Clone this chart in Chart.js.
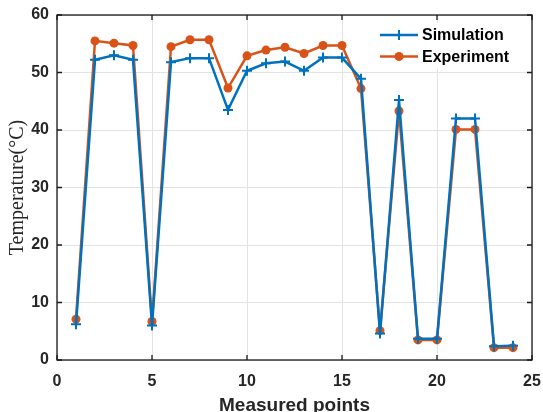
<!DOCTYPE html>
<html>
<head>
<meta charset="utf-8">
<script src="https://cdn.jsdelivr.net/npm/chart.js@4.4.0/dist/chart.umd.min.js"></script>
<style>
  html, body { margin: 0; padding: 0; background: #fff; }
  #wrap { width: 543px; height: 412px; }
</style>
</head>
<body>
<div id="wrap"><canvas id="chart"></canvas></div>
<script>
// measured points and temperatures
const points = [1, 2, 3, 4, 5, 6, 7, 8, 9, 10, 11, 12, 13, 14, 15, 16, 17, 18, 19, 20, 21, 22, 23, 24];
const simulation = [6.2, 52.2, 53.0, 52.2, 6.0, 51.8, 52.5, 52.5, 43.5, 50.3, 51.6, 51.9, 50.3, 52.6, 52.6, 48.9, 4.6, 45.2, 3.7, 3.7, 42.0, 42.0, 2.4, 2.5];
const experiment = [7.1, 55.5, 55.1, 54.7, 6.7, 54.5, 55.7, 55.7, 47.3, 52.9, 53.9, 54.4, 53.3, 54.7, 54.7, 47.2, 5.1, 43.3, 3.5, 3.5, 40.1, 40.1, 2.15, 2.15];
const seriesNames = ['Simulation', 'Experiment'];
const seriesColors = ['#0072BD', '#D95319'];
const xTicks = [0, 5, 10, 15, 20, 25];
const yTicks = [0, 10, 20, 30, 40, 50, 60];

const toXY = (vals) => points.map((p, i) => ({ x: p, y: vals[i] }));

// axes frame, inward ticks and the legend box (matlab look)
const matlabAxes = {
  id: 'matlabAxes',
  afterDraw(chart) {
    const { ctx, chartArea: a, scales: { x, y } } = chart;
    ctx.save();
    ctx.strokeStyle = '#1a1a1a';
    ctx.lineWidth = 1.3;
    ctx.strokeRect(a.left, a.top, a.right - a.left, a.bottom - a.top);
    ctx.beginPath();
    xTicks.forEach(t => {
      const px = x.getPixelForValue(t);
      ctx.moveTo(px, a.bottom); ctx.lineTo(px, a.bottom - 5);
      ctx.moveTo(px, a.top); ctx.lineTo(px, a.top + 5);
    });
    yTicks.forEach(t => {
      const py = y.getPixelForValue(t);
      ctx.moveTo(a.left, py); ctx.lineTo(a.left + 5, py);
      ctx.moveTo(a.right, py); ctx.lineTo(a.right - 5, py);
    });
    ctx.stroke();

    // legend
    const lx = a.right - 157, ly = a.top + 8;
    ctx.fillStyle = '#fff';
    ctx.fillRect(lx, ly, 150, 46);
    chart.data.datasets.forEach((ds, i) => {
      const yy = ly + 12 + i * 21.5;
      const x0 = lx + 5, x1 = lx + 43, xm = (x0 + x1) / 2;
      ctx.strokeStyle = ds.borderColor;
      ctx.lineWidth = 2.5;
      ctx.beginPath(); ctx.moveTo(x0, yy); ctx.lineTo(x1, yy); ctx.stroke();
      if (ds.pointStyle === 'cross') {
        ctx.lineWidth = 2;
        ctx.beginPath();
        ctx.moveTo(xm - 5, yy); ctx.lineTo(xm + 5, yy);
        ctx.moveTo(xm, yy - 5); ctx.lineTo(xm, yy + 5);
        ctx.stroke();
      } else {
        ctx.fillStyle = ds.borderColor;
        ctx.beginPath(); ctx.arc(xm, yy, 4.5, 0, Math.PI * 2); ctx.fill();
      }
      ctx.fillStyle = '#000';
      ctx.font = 'bold 16px "Liberation Sans", Arial, sans-serif';
      ctx.textBaseline = 'middle';
      ctx.fillText(ds.label, x1 + 4, yy + 1);
    });
    ctx.restore();
  }
};

new Chart(document.getElementById('chart'), {
  type: 'line',
  data: {
    datasets: [
      {
        label: seriesNames[0],
        data: toXY(simulation),
        borderColor: seriesColors[0],
        backgroundColor: seriesColors[0],
        borderWidth: 2.5,
        pointStyle: 'cross',
        pointRadius: 5,
        pointBorderWidth: 2,
        tension: 0
      },
      {
        label: seriesNames[1],
        data: toXY(experiment),
        borderColor: seriesColors[1],
        backgroundColor: seriesColors[1],
        borderWidth: 2.5,
        pointStyle: 'circle',
        pointRadius: 4.5,
        pointBorderWidth: 0,
        tension: 0
      }
    ]
  },
  options: {
    responsive: true,
    maintainAspectRatio: false,
    animation: false,
    layout: { padding: { left: 0, right: 0, top: 15, bottom: 0 } },
    plugins: {
      legend: { display: false },
      tooltip: { enabled: false }
    },
    scales: {
      x: {
        type: 'linear',
        min: 0,
        max: 25,
        afterFit: (s) => { s.height = 52; s.paddingRight = 11; },
        afterBuildTicks: (s) => { s.ticks = xTicks.map(v => ({ value: v })); },
        grid: { color: '#e3e3e3', drawTicks: false },
        border: { display: false },
        ticks: {
          padding: 12,
          color: '#262626',
          font: { family: '"Liberation Sans", Arial, sans-serif', size: 16, weight: 'bold' }
        },
        title: {
          display: true,
          text: 'Measured points',
          color: '#262626',
          padding: { top: 0, bottom: -5 },
          font: { family: '"Liberation Sans", Arial, sans-serif', size: 19, weight: 'bold' }
        }
      },
      y: {
        min: 0,
        max: 60,
        afterFit: (s) => { s.width = 57; s.paddingTop = 0; s.paddingBottom = 0; },
        afterBuildTicks: (s) => { s.ticks = yTicks.map(v => ({ value: v })); },
        grid: { color: '#e3e3e3', drawTicks: false },
        border: { display: false },
        ticks: {
          padding: 8,
          color: '#262626',
          font: { family: '"Liberation Sans", Arial, sans-serif', size: 16, weight: 'bold' }
        },
        title: {
          display: true,
          text: 'Temperature(°C)',
          color: '#262626',
          padding: { top: 6, bottom: 0 },
          font: { family: '"Liberation Serif", "Times New Roman", serif', size: 20, weight: 'normal' }
        }
      }
    }
  },
  plugins: [matlabAxes]
});
</script>
</body>
</html>
